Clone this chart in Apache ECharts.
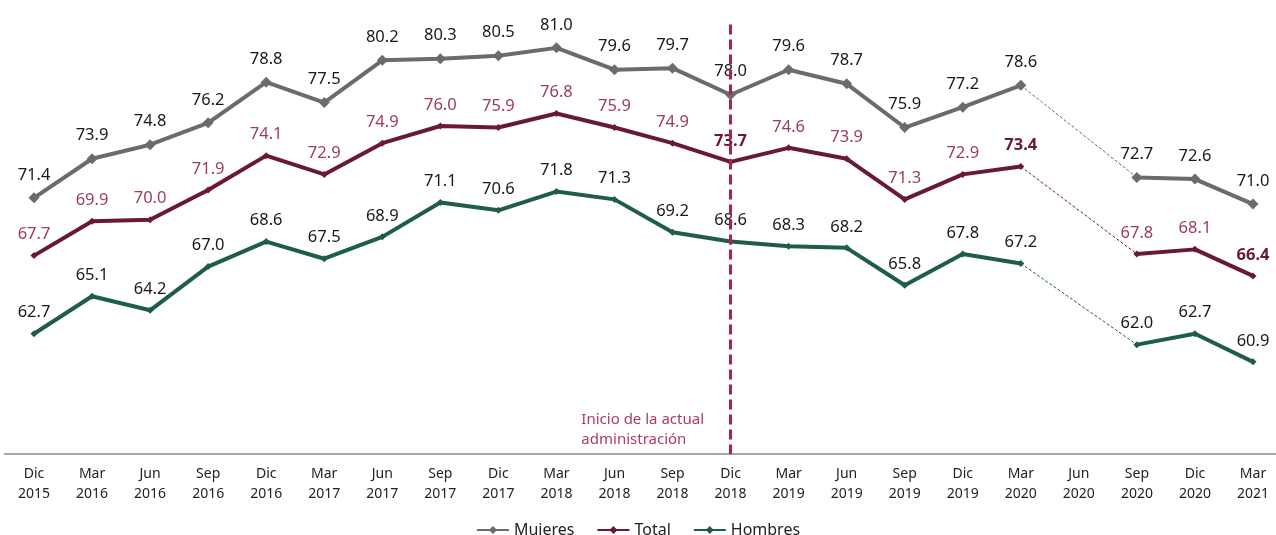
<!DOCTYPE html>
<html>
<head>
<meta charset="utf-8">
<script src="https://cdn.jsdelivr.net/npm/echarts@6/dist/echarts.min.js"></script>
<style>
  html, body { margin: 0; padding: 0; background: #fff; }
  #chart { width: 1276px; height: 535px; }
</style>
</head>
<body>
<div id="chart"></div>
<script>
// periodos (trimestres)
var categories = ['Dic\n2015','Mar\n2016','Jun\n2016','Sep\n2016','Dic\n2016','Mar\n2017','Jun\n2017','Sep\n2017',
  'Dic\n2017','Mar\n2018','Jun\n2018','Sep\n2018','Dic\n2018','Mar\n2019','Jun\n2019','Sep\n2019',
  'Dic\n2019','Mar\n2020','Jun\n2020','Sep\n2020','Dic\n2020','Mar\n2021'];

var mujeres = [71.4,73.9,74.8,76.2,78.8,77.5,80.2,80.3,80.5,81.0,79.6,79.7,78.0,79.6,78.7,75.9,77.2,78.6,null,72.7,72.6,71.0];
var total   = [67.7,69.9,70.0,71.9,74.1,72.9,74.9,76.0,75.9,76.8,75.9,74.9,73.7,74.6,73.9,71.3,72.9,73.4,null,67.8,68.1,66.4];
var hombres = [62.7,65.1,64.2,67.0,68.6,67.5,68.9,71.1,70.6,71.8,71.3,69.2,68.6,68.3,68.2,65.8,67.8,67.2,null,62.0,62.7,60.9];

// puntos del total resaltados en negrita
var totalBold = [12, 17, 21];
// inicio de la administración (Dic 2018)
var inicioIdx = 12;
// tramo sin dato (Mar 2020 -> Sep 2020)
var gapFrom = 17, gapTo = 19;

var FONT = 'Noto Sans';
var cMuj = '#6b6b6b', cTot = '#6a1a30', cHom = '#1e5c4b';
var AXIS_Y = 454;

function lbl(v){ return v.value == null ? '' : Number(v.value).toFixed(1); }

function connector(arr){
  return arr.map(function(v, i){ return (i === gapFrom || i === gapTo) ? v : null; });
}

var totalData = total.map(function(v, i){
  if (totalBold.indexOf(i) >= 0) {
    return { value: v, label: { fontWeight: 'bold', color: cTot } };
  }
  return v;
});

function mainSeries(name, data, color, symSize, labelColor){
  return {
    name: name, type: 'line', data: data,
    symbol: 'diamond', symbolSize: symSize,
    itemStyle: { color: color },
    lineStyle: { color: color, width: 4 },
    label: { show: true, position: 'top', distance: 9, formatter: lbl,
             color: labelColor, fontFamily: FONT, fontSize: 16.5 },
    z: 3
  };
}

function dashSeries(name, arr, color){
  return {
    name: name + '_gap', type: 'line', data: connector(arr), connectNulls: true,
    symbol: 'none', silent: true,
    lineStyle: { color: color, width: 1, type: [3, 2] },
    label: { show: false }, z: 2
  };
}

var sTotal = mainSeries('Total', totalData, cTot, 7, '#9b3d5c');
sTotal.markLine = {
  silent: true, symbol: 'none',
  lineStyle: { color: '#a8234f', width: 3, type: [10, 5] },
  label: { show: false },
  data: [[{ xAxis: inicioIdx, yAxis: 82.5 }, { xAxis: inicioIdx, yAxis: 55 }]],
  z: 5
};

var option = {
  backgroundColor: '#fff',
  animation: false,
  grid: { left: 34, top: 1, right: 23, bottom: 535 - AXIS_Y, containLabel: false },
  legend: {
    data: ['Mujeres', 'Total', 'Hombres'],
    top: 517, left: 'center',
    itemWidth: 32, itemHeight: 10, itemGap: 22,
    textStyle: { fontFamily: FONT, fontSize: 16, color: '#222' }
  },
  xAxis: {
    type: 'category', data: categories, boundaryGap: false,
    axisLine: { show: false },
    axisTick: { show: false },
    axisLabel: { interval: 0, color: '#222', fontFamily: FONT, fontSize: 14, lineHeight: 20, margin: 10 }
  },
  yAxis: {
    type: 'value', min: 55, max: 84, show: false,
    splitLine: { show: false }
  },
  graphic: [{
    // línea base del eje, más ancha que el área de los puntos
    type: 'line', silent: true,
    shape: { x1: 4, y1: AXIS_Y, x2: 1276, y2: AXIS_Y },
    style: { stroke: '#8a8a8a', lineWidth: 1.5 }
  }, {
    type: 'text', right: 1276 - 704, top: 410,
    style: {
      text: 'Inicio de la actual\nadministración',
      align: 'right', fill: '#b03a63', font: '15px "Noto Sans"', lineHeight: 20
    }
  }],
  series: [
    mainSeries('Mujeres', mujeres, cMuj, 11, '#1a1a1a'),
    sTotal,
    mainSeries('Hombres', hombres, cHom, 7, '#1a1a1a'),
    dashSeries('Mujeres', mujeres, cMuj),
    dashSeries('Total', total, cTot),
    dashSeries('Hombres', hombres, cHom)
  ]
};

var chart = echarts.init(document.getElementById('chart'));
chart.setOption(option);
</script>
</body>
</html>
